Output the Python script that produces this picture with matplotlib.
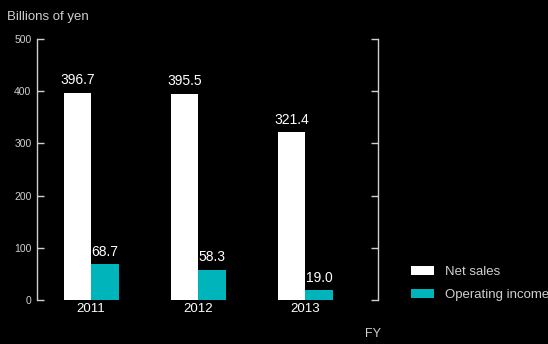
import matplotlib
matplotlib.use("Agg")
import matplotlib.pyplot as plt
from matplotlib.patches import Patch
import numpy as np

years = ["2011", "2012", "2013"]
net_sales = [396.7, 395.5, 321.4]
operating_income = [68.7, 58.3, 19.0]
y_ticks = [0, 100, 200, 300, 400, 500]

plt.rcParams['font.family'] = ['Liberation Sans', 'DejaVu Sans']

BG = "black"
AXIS = "#cfcfcf"
TEAL = "#00b4bc"

fig = plt.figure(figsize=(5.48, 3.44), dpi=100, facecolor=BG)
ax = fig.add_axes([37 / 548, 44 / 344, 341 / 548, 261 / 344], facecolor=BG)

x = np.arange(len(years))
w = 0.257
b1 = ax.bar(x - w / 2, net_sales, w, color="white", label="Net sales")
b2 = ax.bar(x + w / 2, operating_income, w, color=TEAL, label="Operating income")

for bars, vals in ((b1, net_sales), (b2, operating_income)):
    for rect, v in zip(bars, vals):
        ax.annotate(f"{v:.1f}", (rect.get_x() + rect.get_width() / 2, v),
                    xytext=(0, 4), textcoords="offset points",
                    ha="center", va="bottom", color="white", fontsize=10)

ax.set_xlim(-0.505, 2.68)
ax.set_ylim(0, 500)
ax.set_yticks(y_ticks)
ax.set_xticks(x)
ax.set_xticklabels(years)

for s in ("top", "bottom"):
    ax.spines[s].set_visible(False)
for s in ("left", "right"):
    ax.spines[s].set_color(AXIS)
    ax.spines[s].set_linewidth(1.0)

ax.tick_params(axis="y", which="both", direction="in", length=5, width=1,
               color=AXIS, labelcolor=AXIS, labelsize=7.5, pad=4,
               left=True, right=True, labelleft=True, labelright=False)
ax.tick_params(axis="x", length=0, labelcolor="white", labelsize=9.5, pad=2)

fig.text(7 / 548, 1 - 17 / 344, "Billions of yen", color=AXIS, fontsize=9.5,
         ha="left", va="center")
fig.text(373 / 548, 1 - 334 / 344, "FY", color=AXIS, fontsize=9,
         ha="center", va="center")

handles = [Patch(facecolor="white", label="Net sales"),
           Patch(facecolor=TEAL, label="Operating income")]
leg = fig.legend(handles=handles, loc="upper left",
                 bbox_to_anchor=(411 / 548, 1 - 266 / 344),
                 frameon=False, fontsize=9.5, labelcolor=AXIS,
                 handlelength=1.75, handleheight=0.7, handletextpad=0.8,
                 labelspacing=0.8, borderaxespad=0, borderpad=0)

fig.savefig("out.png", dpi=100, facecolor=BG)
